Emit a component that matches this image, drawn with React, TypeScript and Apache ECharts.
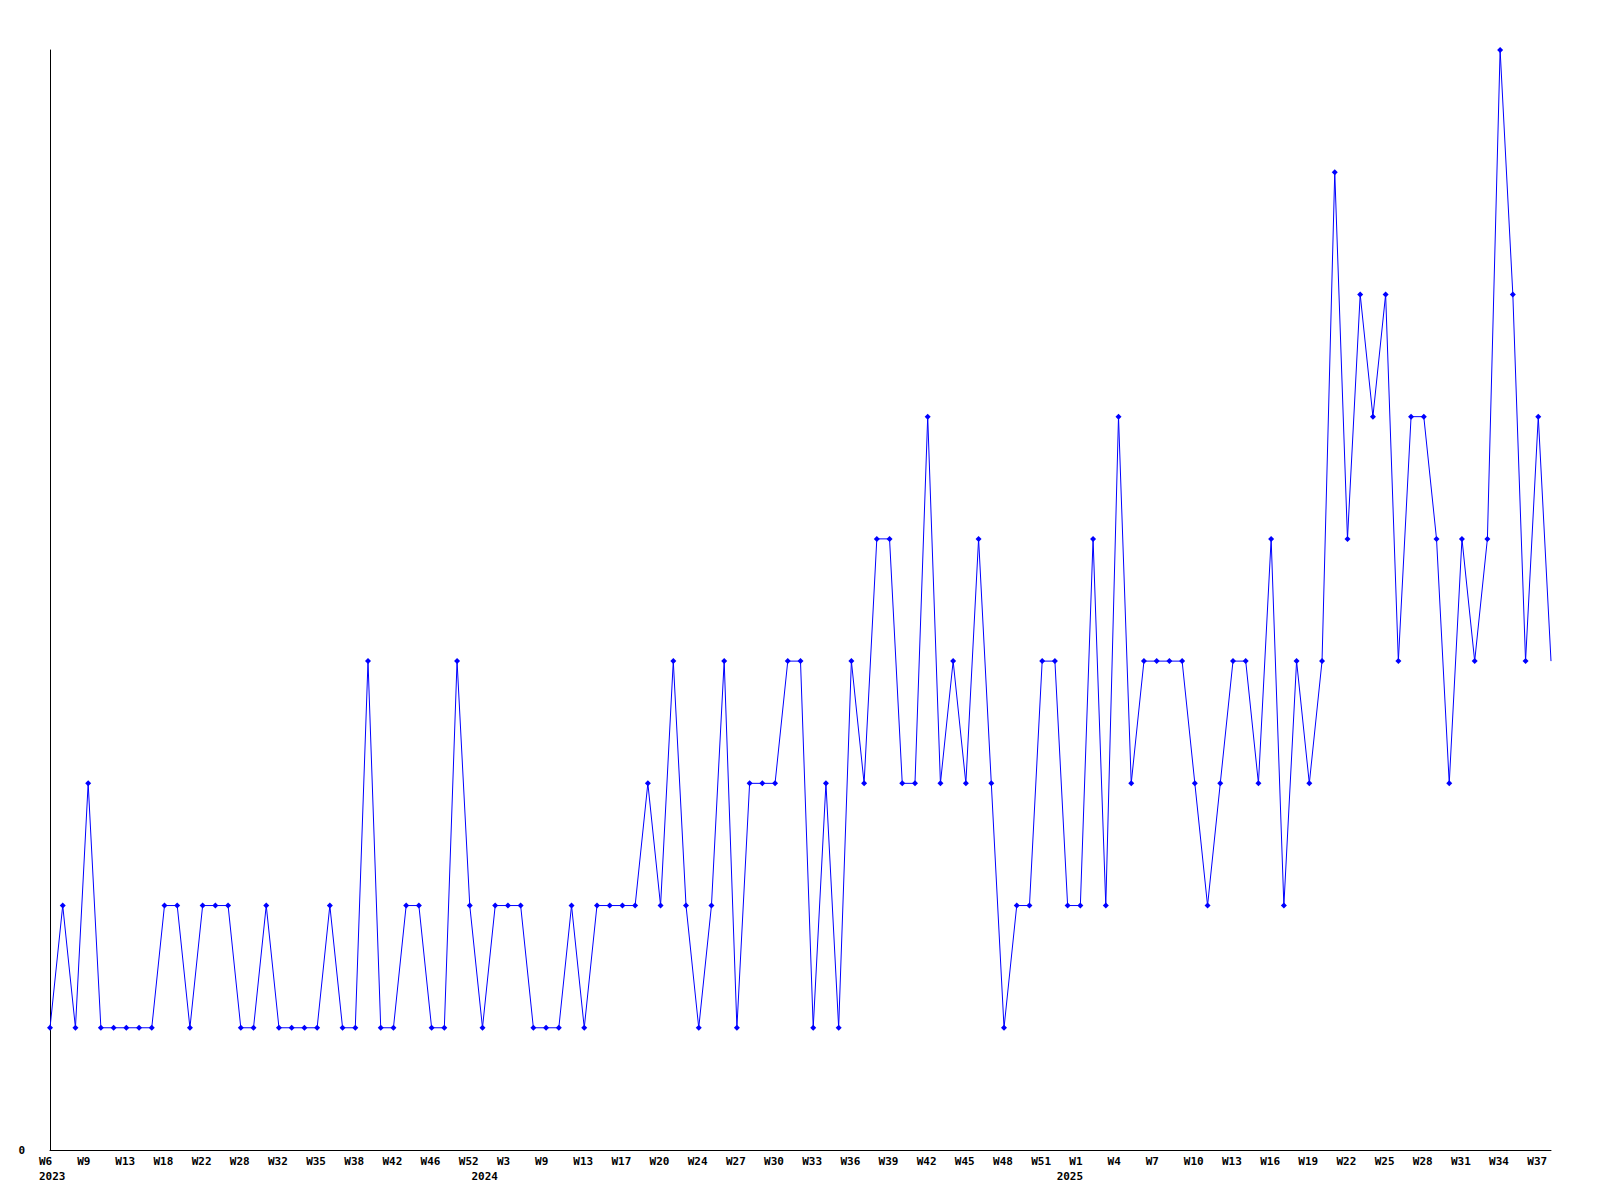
import React, { useEffect, useRef } from "react";
import * as echarts from "echarts";

// year of each weekly point
const years: number[] = [
  ...Array(34).fill(2023),
  ...Array(46).fill(2024),
  ...Array(39).fill(2025),
];

// week number of each point
const weeks: number[] = [
  // 2023
  6, 7, 8, 9, 10, 12, 13, 15, 16, 18, 19, 21, 22, 24, 26, 28, 29, 31, 32, 33,
  34, 35, 36, 37, 38, 39, 40, 42, 43, 45, 46, 48, 50, 52,
  // 2024
  1, 2, 3, 5, 7, 9, 10, 12, 13, 14, 16, 17, 18, 19, 20, 21, 23, 24, 25, 26,
  27, 28, 29, 30, 31, 32, 33, 34, 35, 36, 37, 38, 39, 40, 41, 42, 43, 44, 45,
  46, 47, 48, 49, 50, 51, 52,
  // 2025
  0, 1, 2, 3, 4, 5, 6, 7, 8, 9, 10, 11, 12, 13, 14, 15, 16, 17, 18, 19, 20,
  21, 22, 23, 24, 25, 26, 27, 28, 29, 30, 31, 32, 33, 34, 35, 36, 37, 38,
];

const values: number[] = [
  1, 2, 1, 3, 1, 1, 1, 1, 1, 2, 2, 1, 2, 2, 2, 1, 1, 2, 1, 1,
  1, 1, 2, 1, 1, 4, 1, 1, 2, 2, 1, 1, 4, 2, 1, 2, 2, 2, 1, 1,
  1, 2, 1, 2, 2, 2, 2, 3, 2, 4, 2, 1, 2, 4, 1, 3, 3, 3, 4, 4,
  1, 3, 1, 4, 3, 5, 5, 3, 3, 6, 3, 4, 3, 5, 3, 1, 2, 2, 4, 4,
  2, 2, 5, 2, 6, 3, 4, 4, 4, 4, 3, 2, 3, 4, 4, 3, 5, 2, 4, 3,
  4, 8, 5, 7, 6, 7, 4, 6, 6, 5, 3, 5, 4, 5, 9, 7, 4, 6, 4,
];

const categories: string[] = weeks.map((w, i) => `${years[i]}-W${w}`);

const yMin = 0;
const yMax = 9;

export default function App() {
  const ref = useRef<HTMLDivElement>(null);

  useEffect(() => {
    if (!ref.current) return;
    const chart = echarts.init(ref.current, undefined, { renderer: "svg" });
    const isYearStart = (i: number) => i === 0 || years[i] !== years[i - 1];
    const showLabel = (i: number) => i % 3 === 0 || isYearStart(i);
    const font = {
      fontFamily: "DejaVu Sans Mono",
      fontWeight: "bold" as const,
      fontSize: 11,
      color: "#000",
    };
    chart.setOption({
      animation: false,
      backgroundColor: "#fff",
      grid: { left: 50, right: 49, top: 50, bottom: 50, containLabel: false },
      xAxis: {
        type: "category",
        data: categories,
        boundaryGap: false,
        axisLine: { show: true, lineStyle: { color: "#000", width: 1 } },
        axisTick: { show: false },
        splitLine: { show: false },
        axisLabel: {
          ...font,
          interval: (i: number) => showLabel(i),
          align: "left",
          verticalAlign: "top",
          lineHeight: 15,
          margin: 4,
          padding: [0, 0, 0, -11],
          formatter: (_v: string, i: number) => {
            const top = i % 3 === 0 ? `W${weeks[i]}` : "";
            const bottom = isYearStart(i) ? `\n${years[i]}` : "";
            return top + bottom;
          },
        },
      },
      yAxis: {
        type: "value",
        min: yMin,
        max: yMax,
        interval: 9,
        axisLine: { show: true, lineStyle: { color: "#000", width: 1 } },
        axisTick: { show: false },
        splitLine: { show: false },
        axisLabel: {
          ...font,
          margin: 25,
          formatter: (v: number) => (v === 0 ? "0" : ""),
        },
      },
      series: [
        {
          type: "line",
          data: values.map((v, i) =>
            i === values.length - 1 ? { value: v, symbol: "none" } : v
          ),
          symbol: "diamond",
          symbolSize: 6,
          showSymbol: true,
          showAllSymbol: true,
          lineStyle: { color: "#0000ff", width: 1 },
          itemStyle: { color: "#0000ff" },
          clip: false,
        },
      ],
    });
    return () => chart.dispose();
  }, []);

  return (
    <div
      ref={ref}
      style={{ position: "fixed", left: 0, top: 0, width: 1600, height: 1200 }}
    />
  );
}
